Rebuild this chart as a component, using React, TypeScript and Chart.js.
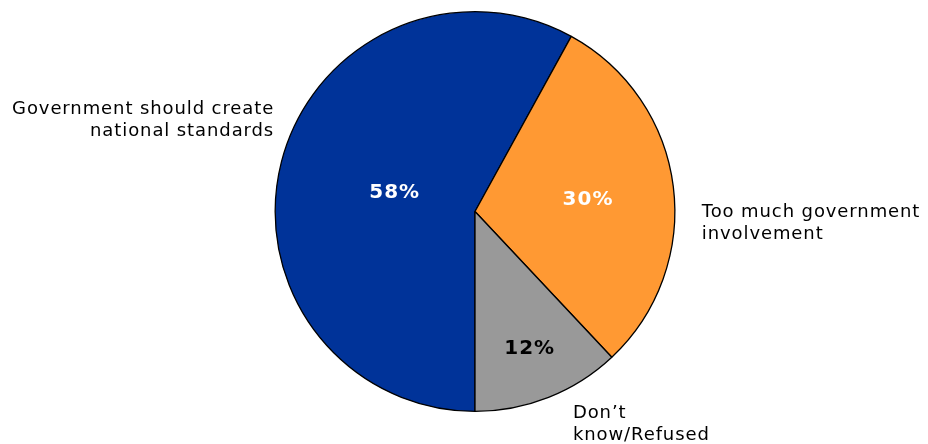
import React, { useEffect, useRef } from "react";
import { Chart, registerables } from "chart.js";

Chart.register(...registerables);

const categories = [
  ["Government should create", "national standards"],
  ["Too much government", "involvement"],
  ["Don\u2019t", "know/Refused"],
];
const values = [58, 30, 12];
const colors = ["#003399", "#FF9933", "#999999"];
const pctColors = ["#FFFFFF", "#FFFFFF", "#000000"];
// label radial fraction for percentage text
const pctRadius = [0.42, 0.565, 0.73];
// outer label anchors (offset from pie centre, in radius units), alignment
const outerOffsets = [
  { dx: -1.01, dy: -0.49, align: "right" },
  { dx: 1.135, dy: 0.03, align: "left" },
  { dx: 0.49, dy: 1.035, align: "left" },
];

const labelPlugin = {
  id: "labelPlugin",
  afterDraw(chart: any) {
    const ctx = chart.ctx;
    const meta = chart.getDatasetMeta(0);
    const total = values.reduce((a, b) => a + b, 0);
    ctx.save();
    meta.data.forEach((arc: any, i: number) => {
      const { x, y, startAngle, endAngle, outerRadius } = arc.getProps(
        ["x", "y", "startAngle", "endAngle", "outerRadius"],
        true
      );
      const mid = (startAngle + endAngle) / 2;
      const r = outerRadius * pctRadius[i];
      ctx.font = "bold 20px 'DejaVu Sans', Verdana, sans-serif";
      ctx.letterSpacing = "1px";
      ctx.fillStyle = pctColors[i];
      ctx.textAlign = "center";
      ctx.textBaseline = "middle";
      ctx.fillText(
        Math.round((values[i] / total) * 100) + "%",
        x + Math.cos(mid) * r + 1,
        y + Math.sin(mid) * r + 2
      );
      const o = outerOffsets[i];
      ctx.font = "18px 'DejaVu Sans', Verdana, sans-serif";
      ctx.letterSpacing = "0.9px";
      ctx.fillStyle = "#000000";
      ctx.textAlign = o.align;
      ctx.textBaseline = "alphabetic";
      const shift = o.align === "right" ? 1 : 0;
      categories[i].forEach((line, j) => {
        ctx.fillText(line, x + o.dx * outerRadius + shift, y + o.dy * outerRadius + j * 22);
      });
    });
    ctx.restore();
  },
};

export default function App() {
  const ref = useRef<HTMLCanvasElement>(null);
  useEffect(() => {
    const chart = new Chart(ref.current as HTMLCanvasElement, {
      type: "pie",
      data: {
        labels: categories.map((c) => c.join(" ")),
        datasets: [
          {
            data: values,
            backgroundColor: colors,
            borderColor: "#000000",
            borderWidth: 1.3,
          },
        ],
      },
      options: {
        animation: false,
        responsive: false,
        rotation: 180,
        layout: { padding: { left: 274, right: 252, top: 11, bottom: 32 } },
        plugins: {
          legend: { display: false },
          tooltip: { enabled: false },
        },
      },
      plugins: [labelPlugin],
    });
    return () => chart.destroy();
  }, []);
  return (
    <div style={{ position: "fixed", left: 0, top: 0, width: 928, height: 444, background: "#fff" }}>
      <canvas ref={ref} width={928} height={444} />
    </div>
  );
}
